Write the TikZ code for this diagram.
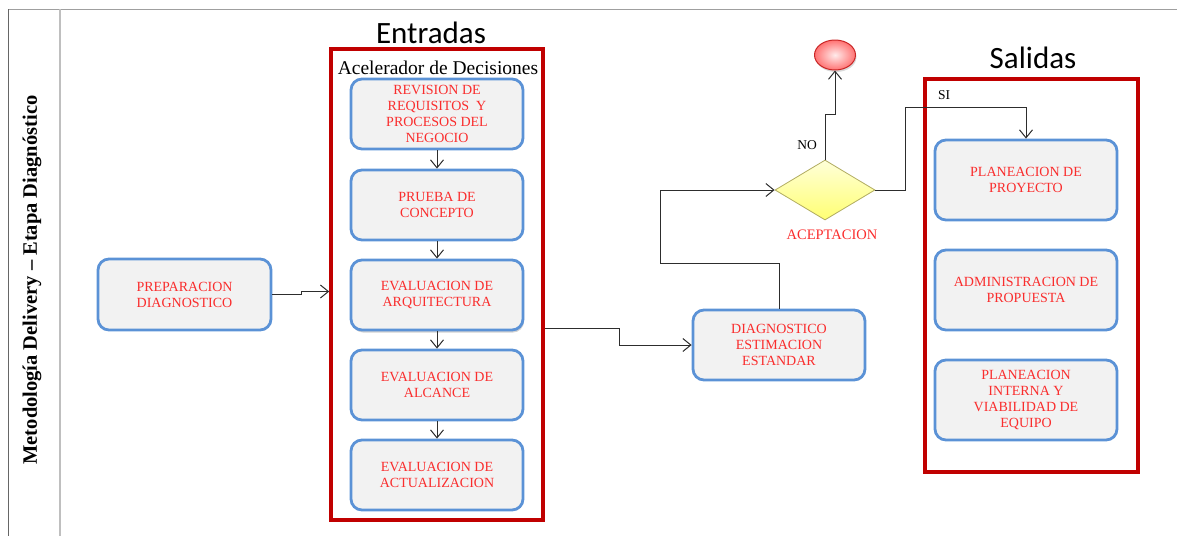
\documentclass[tikz,border=0pt]{standalone}
\usepackage{fontspec}
\setmainfont{Liberation Serif}
\newfontfamily\calib{Carlito}
\usetikzlibrary{arrows.meta,shapes.geometric,shadows,calc}
\definecolor{boxblue}{RGB}{91,146,214}
\definecolor{boxfill}{RGB}{242,242,242}
\definecolor{txtred}{RGB}{250,45,45}
\definecolor{framered}{RGB}{192,0,0}
\definecolor{linegray}{RGB}{45,45,45}
\begin{document}
\begin{tikzpicture}[x=1pt,y=-1pt,
  proc/.style={draw=boxblue,line width=2.8pt,fill=boxfill,rounded corners=11pt,
    align=center,text=txtred,font=\fontsize{14}{16}\selectfont,inner sep=0pt},
  frame/.style={draw=framered,line width=3.6pt,inner sep=0pt},
  arr/.style={draw=linegray,line width=1pt,-{Straight Barb[length=8pt,width=13pt,line width=1pt]}},
  lbl/.style={font=\fontsize{13.5}{15}\selectfont,text=black,inner sep=0pt},
  title/.style={font=\calib\fontsize{31}{33}\selectfont,inner sep=0pt}]
\useasboundingbox (0,0) rectangle (1177,536);
% lane frame
\draw[draw=gray!75,line width=1.6pt] (8,9.5) -- (1177,9.5);
\draw[draw=gray!80!black,line width=1.3pt] (8.5,9) -- (8.5,536);
\draw[draw=gray!50,line width=1.8pt] (60,9) -- (60,536);
\node[rotate=90,font=\bfseries\fontsize{20.5}{22}\selectfont,inner sep=0pt] (lane) at (32,280) {Metodología Delivery – Etapa Diagnóstico};
% frames
\node[frame,minimum width=212pt,minimum height=471pt] (entradas) at (437,284.5) {};
\node[frame,minimum width=213pt,minimum height=393pt] (salidas) at (1031.5,275.5) {};
\node[title] (tent) at (431,33) {Entradas};
\node[title] (tsal) at (1033,58) {Salidas};
\node[font=\fontsize{19.5}{21}\selectfont,inner sep=0pt] (acel) at (438,68) {Acelerador de Decisiones};
% process boxes
\node[proc,minimum width=173pt,minimum height=71pt] (prep) at (184.5,294.5) {PREPARACION\\DIAGNOSTICO};
\node[proc,minimum width=172pt,minimum height=70pt] (b1) at (437,114) {REVISION DE\\REQUISITOS\ \ Y\\PROCESOS DEL\\NEGOCIO};
\node[proc,minimum width=172pt,minimum height=70pt] (b2) at (437,205) {PRUEBA DE\\CONCEPTO};
\node[proc,minimum width=172pt,minimum height=70pt,drop shadow={shadow xshift=1pt,shadow yshift=-2.5pt,opacity=0.35}] (b3) at (437,295) {EVALUACION DE\\ARQUITECTURA};
\node[proc,minimum width=172pt,minimum height=70pt] (b4) at (437,385) {EVALUACION DE\\ALCANCE};
\node[proc,minimum width=172pt,minimum height=70pt] (b5) at (437,475) {EVALUACION DE\\ACTUALIZACION};
\node[proc,minimum width=172pt,minimum height=70pt] (diag) at (779,345) {DIAGNOSTICO\\ESTIMACION\\ESTANDAR};
\node[proc,minimum width=182pt,minimum height=80pt] (pa) at (1026,180) {PLANEACION DE\\PROYECTO};
\node[proc,minimum width=182pt,minimum height=80pt] (pb) at (1026,290) {ADMINISTRACION DE\\PROPUESTA};
\node[proc,minimum width=182pt,minimum height=80pt] (pc) at (1026,400) {PLANEACION\\INTERNA Y\\VIABILIDAD DE\\EQUIPO};
% decision and end
\node[diamond,draw=black!25!yellow!60!gray,line width=0.8pt,top color=yellow!15,bottom color=yellow!55,
  minimum width=100pt,minimum height=60pt,aspect=1.667,inner sep=0pt] (dec) at (825,190) {};
\node[ellipse,draw=framered!85,line width=1pt,inner color=red!8,outer color=red!55,
  minimum width=41pt,minimum height=30pt,inner sep=0pt,
  drop shadow={shadow xshift=1pt,shadow yshift=-2pt,opacity=0.3}] (fin) at (835,55) {};
\node[lbl,text=txtred,font=\fontsize{14.5}{16}\selectfont] (acept) at (832,235) {ACEPTACION};
\node[lbl] (no) at (807,145) {NO};
\node[lbl] (si) at (944,95) {SI};
% connectors
\draw[arr] (prep.east) -- ++(29,0) -- ++(0,-3) coordinate (pk) -- (pk -| entradas.west);
\draw[arr] (b1.south) -- (b2.north);
\draw[arr] (b2.south) -- (b3.north);
\draw[arr] (b3.south) -- (b4.north);
\draw[arr] (b4.south) -- (b5.north);
\draw[arr] ($(entradas.east)+(0,43.5)$) -- ++(75,0) |- (diag.west);
\draw[arr] (diag.north) -- ++(0,-45) -- ++(-119,0) |- (dec.west);
\draw[arr] (dec.north) -- ++(0,-45) -| (fin.south);
\draw[arr] (dec.east) -- ++(30,0) -- ++(0,-83) -| (pa.north);
\end{tikzpicture}
\end{document}
